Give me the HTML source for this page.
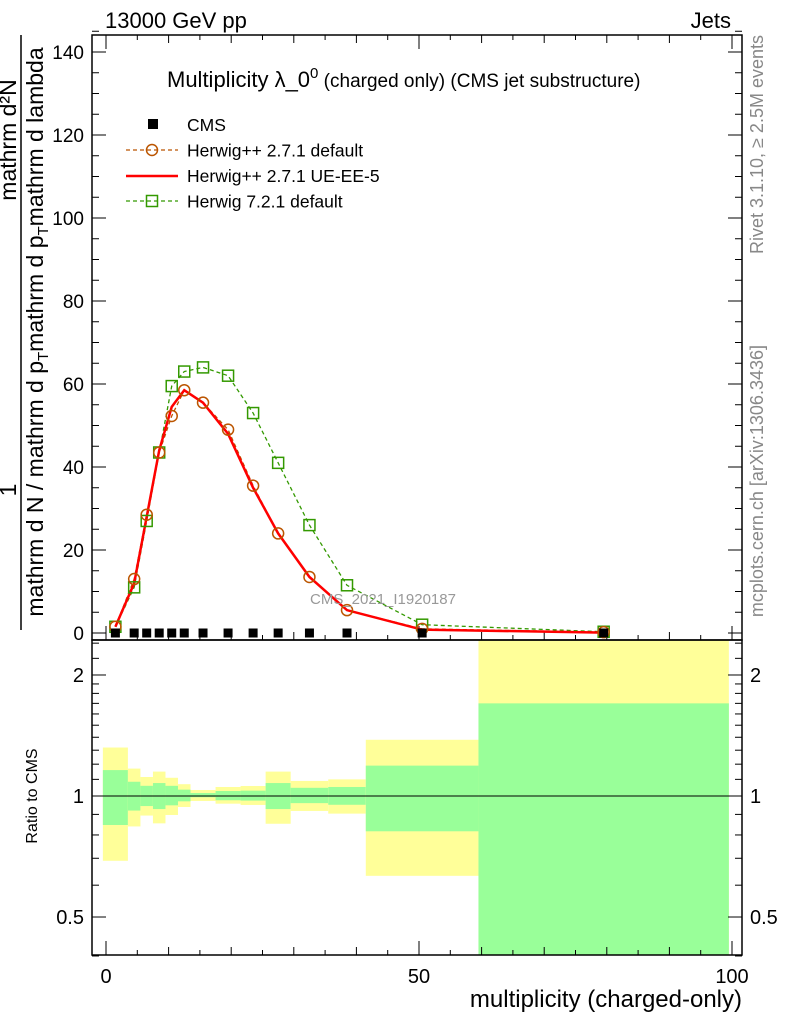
<!DOCTYPE html>
<html><head><meta charset="utf-8"><style>
html,body{margin:0;background:#fff;overflow:hidden;width:786px;height:1024px}
svg{display:block;font-family:"Liberation Sans",sans-serif}
</style></head><body>
<svg id="c" width="786" height="1024">
<g id="main"></g>
</svg>
<script>
const centers=[1.5,4.5,6.5,8.5,10.5,12.5,15.5,19.5,23.5,27.5,32.5,38.5,50.5,79.5];
const edges=[-0.5,3.5,5.5,7.5,9.5,11.5,13.5,17.5,21.5,25.5,29.5,35.5,41.5,59.5,99.5];
const cmsVals=[0,0,0,0,0,0,0,0,0,0,0,0,0,0];
const hppDefault=[1.5,13,28.5,43.5,52.3,58.5,55.5,49,35.5,24,13.5,5.5,1,0.2];
const hppUE=[1.5,12,28,44,54.5,58.5,55.5,48,35,24,13.5,5.5,0.8,0.1];
const h7=[1.5,11,27,43.5,59.5,63,64,62,53,41,26,11.5,2,0.3];
const yelTop=[1.32,1.17,1.115,1.15,1.11,1.07,1.035,1.053,1.059,1.15,1.09,1.10,1.38,2.6];
const grnTop=[1.16,1.085,1.06,1.077,1.06,1.037,1.017,1.029,1.031,1.077,1.048,1.053,1.19,1.70];
const grnBot=[0.847,0.92,0.944,0.928,0.948,0.97,0.993,0.976,0.974,0.928,0.96,0.951,0.817,0.3];
const yelBot=[0.69,0.84,0.894,0.855,0.897,0.939,0.972,0.957,0.95,0.853,0.918,0.904,0.633,0.2];
const yTicks=[0,20,40,60,80,100,120,140];
const xTicks=[0,50,100];
const rTicks=[0.5,1,2];

const NS="http://www.w3.org/2000/svg";
const svg=document.getElementById('c');
const L=92,R=742,T=35,MB=640,RB=955;
const X=v=>106+v*6.26;
const Y=v=>633-v*4.15;
const RY=v=>796-Math.log10(v)*402;
function el(tag,attrs,parent){const e=document.createElementNS(NS,tag);for(const k in attrs)e.setAttribute(k,attrs[k]);(parent||svg).appendChild(e);return e;}
function txt(s,attrs){const e=el('text',attrs);e.textContent=s;return e;}

const clip=el('clipPath',{id:'rc'});el('rect',{x:L,y:MB,width:R-L,height:RB-MB},clip);
const bands=el('g',{'clip-path':'url(#rc)'});


for(let i=0;i<centers.length;i++){
  const x0=X(edges[i]),x1=X(edges[i+1]);
  const y=el('rect',{x:x0,y:RY(yelTop[i]),width:x1-x0,height:RY(yelBot[i])-RY(yelTop[i]),fill:'#ffff99'},bands);
  
  
  const g=el('rect',{x:x0,y:RY(grnTop[i]),width:x1-x0,height:RY(grnBot[i])-RY(grnTop[i]),fill:'#99ff99'},bands);
  
  
}
const one=el('line',{x1:L,x2:R,y1:RY(1),y2:RY(1),stroke:'#000','stroke-width':1});



const f1=el('rect',{x:L,y:T,width:R-L,height:MB-T,fill:'none',stroke:'#000','stroke-width':1.5});


const f2=el('rect',{x:L,y:MB,width:R-L,height:RB-MB,fill:'none',stroke:'#000','stroke-width':1.5});



for(let v=0;v<=145;v+=5){
  const len=v%20===0?14:7;
  el('line',{x1:L,x2:L+len,y1:Y(v),y2:Y(v),stroke:'#000'});
  el('line',{x1:R,x2:R-len,y1:Y(v),y2:Y(v),stroke:'#000'});
}
yTicks.forEach(v=>{const t=txt(String(v),{x:84,y:Y(v)+7,'font-size':19,'text-anchor':'end'});

});
for(let v=0;v<=100;v+=5){
  const len=v%50===0?14:(v%10===0?8:5);
  [MB,RB].forEach(b=>el('line',{x1:X(v),x2:X(v),y1:b,y2:b-len,stroke:'#000'}));
  el('line',{x1:X(v),x2:X(v),y1:T,y2:T+len,stroke:'#000'});
}
xTicks.forEach(v=>{const t=txt(String(v),{x:X(v),y:983,'font-size':20,'text-anchor':'middle'});

});
for(let d of [0.4,0.5,0.6,0.7,0.8,0.9,1,1.1,1.2,1.3,1.4,1.5,1.6,1.7,1.8,1.9,2,2.2,2.4]){
  const len=(d===0.5||d===1||d===2)?14:7;
  el('line',{x1:L,x2:L+len,y1:RY(d),y2:RY(d),stroke:'#000'});
  el('line',{x1:R,x2:R-len,y1:RY(d),y2:RY(d),stroke:'#000'});
}
rTicks.forEach(v=>{
  const a=txt(String(v),{x:84,y:RY(v)+7,'font-size':20,'text-anchor':'end'});
  
  
  const b=txt(String(v),{x:750,y:RY(v)+7,'font-size':20});
  
  
});

function pts(arr){return centers.map((c,i)=>X(c)+','+Y(arr[i])).join(' ');}
const l7=el('polyline',{points:pts(h7),fill:'none',stroke:'#339900','stroke-width':1.3,'stroke-dasharray':'4,3'});


const lhd=el('polyline',{points:pts(hppDefault),fill:'none',stroke:'#bb5500','stroke-width':1.3,'stroke-dasharray':'4,3'});


const lue=el('polyline',{points:pts(hppUE),fill:'none',stroke:'#ff0000','stroke-width':2.5});


centers.forEach((c,i)=>{
  const s=el('rect',{x:X(c)-5.5,y:Y(h7[i])-5.5,width:11,height:11,fill:'none',stroke:'#339900','stroke-width':1.5});
  
  
  const o=el('circle',{cx:X(c),cy:Y(hppDefault[i]),r:5.5,fill:'none',stroke:'#bb5500','stroke-width':1.5});
  
  
  const m=el('rect',{x:X(c)-4.5,y:Y(cmsVals[i])-4.5,width:9,height:9,fill:'#000'});
  
  
});

function T2(s,a,name){const t=txt(s,a);return t;}
T2('13000 GeV pp',{x:105,y:28,'font-size':22},'energy-label');
T2('Jets',{x:731,y:28,'font-size':22,'text-anchor':'end'},'process-label');
const tt=T2('',{x:167,y:87,'font-size':22},'plot-title');
tt.innerHTML='Multiplicity λ_0<tspan dy="-9" font-size="15">0</tspan><tspan dy="9" font-size="19"> (charged only) (CMS jet substructure)</tspan>';
T2('CMS_2021_I1920187',{x:310,y:604,'font-size':15,fill:'#999'},'analysis-id');
T2('multiplicity (charged-only)',{x:742,y:1007,'font-size':24,'text-anchor':'end'},'x-axis-title');
T2('Ratio to CMS',{x:0,y:0,'font-size':16,'text-anchor':'middle',transform:'translate(37,796) rotate(-90)'},'ratio-axis-title');
T2('Rivet 3.1.10, ≥ 2.5M events',{x:0,y:0,'font-size':18,fill:'#888','text-anchor':'end',transform:'translate(763,35) rotate(-90)'},'rivet-label');
T2('mcplots.cern.ch [arXiv:1306.3436]',{x:0,y:0,'font-size':18,fill:'#888','text-anchor':'end',transform:'translate(763,345) rotate(-90)'},'mcplots-label');
const yl=el('line',{x1:21,x2:21,y1:35,y2:630,stroke:'#000','stroke-width':1.5});


T2('1',{x:0,y:0,'font-size':23,'text-anchor':'middle',transform:'translate(16,490) rotate(-90)'},'y-axis-title-numerator');
T2('mathrm d²N',{x:0,y:0,'font-size':23,'text-anchor':'middle',transform:'translate(16,140) rotate(-90)'},'y-axis-title-d2n');
const yd=T2('',{x:0,y:0,'font-size':23,'text-anchor':'middle',transform:'translate(43,332) rotate(-90)'},'y-axis-title-denominator');
yd.innerHTML='mathrm d N / mathrm d p<tspan dy="5" font-size="15">T</tspan><tspan dy="-5">mathrm d p</tspan><tspan dy="5" font-size="15">T</tspan><tspan dy="-5">mathrm d lambda</tspan>';

const lg=el('g',{});


el('rect',{x:148,y:119,width:10,height:10,fill:'#000'},lg);
const names=['CMS','Herwig++ 2.7.1 default','Herwig++ 2.7.1 UE-EE-5','Herwig 7.2.1 default'];
names.forEach((n,i)=>{const t=txt(n,{x:187,y:131+i*25.5,'font-size':17.5});lg.appendChild(t);});
el('line',{x1:126,x2:178,y1:150,y2:150,stroke:'#bb5500','stroke-dasharray':'4,3','stroke-width':1.3},lg);
el('circle',{cx:152,cy:150,r:5.5,fill:'none',stroke:'#bb5500','stroke-width':1.5},lg);
el('line',{x1:126,x2:178,y1:176,y2:176,stroke:'#ff0000','stroke-width':2.5},lg);
el('line',{x1:126,x2:178,y1:201,y2:201,stroke:'#339900','stroke-dasharray':'4,3','stroke-width':1.3},lg);
el('rect',{x:146.5,y:195.5,width:11,height:11,fill:'none',stroke:'#339900','stroke-width':1.5},lg);
</script>
</body></html>
